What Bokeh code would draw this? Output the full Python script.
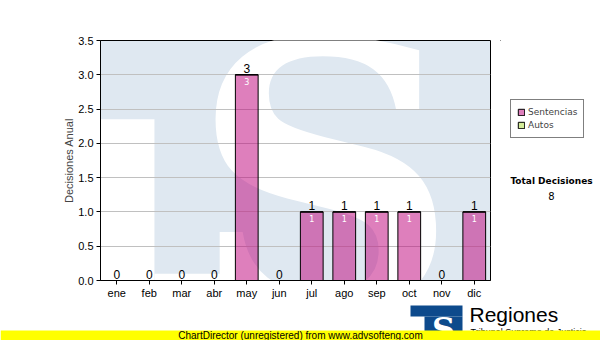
from bokeh.plotting import figure
from bokeh.models import (ColumnDataSource, Range1d, FixedTicker, Legend, LegendItem,
                          NumeralTickFormatter)
from bokeh.layouts import column, row
from bokeh.core.properties import value
from bokeh.embed import file_html
from bokeh.resources import INLINE

months = ["ene", "feb", "mar", "abr", "may", "jun", "jul", "ago", "sep", "oct", "nov", "dic"]
sentencias = [0, 0, 0, 0, 3, 0, 1, 1, 1, 1, 0, 1]
autos = [0, 0, 0, 0, 0, 0, 0, 0, 0, 0, 0, 0]
y_ticks = [0, 0.5, 1.0, 1.5, 2.0, 2.5, 3.0, 3.5]
total = sum(sentencias) + sum(autos)

xpos = [i + 0.5 for i in range(len(months))]
totals = [s + a for s, a in zip(sentencias, autos)]
src = ColumnDataSource(dict(x=xpos, s=sentencias, top2=totals, lab=[str(t) for t in totals]))
inner = ColumnDataSource(dict(x=[x for x, s in zip(xpos, sentencias) if s > 0],
                              y=[s for s in sentencias if s > 0],
                              lab=[str(s) for s in sentencias if s > 0]))

H_TOP = 302
W_MAIN = 500
# ---------------- main chart ----------------
p = figure(width=W_MAIN, height=H_TOP, output_backend="svg", toolbar_location=None,
           x_range=Range1d(0, 12), y_range=Range1d(0, 3.5),
           min_border_left=100, min_border_right=10, min_border_top=40, min_border_bottom=22)
p.background_fill_color = "#dfe8f1"
p.border_fill_color = "white"
p.outline_line_color = "black"

# watermark (TS logo)
wm1 = p.quad(left=[0], right=[1.66], bottom=[0], top=[2.35], fill_color="white", line_color=None)
wm2 = p.quad(left=[1.66], right=[4], bottom=[0], top=[0.1], fill_color="white", line_color=None)
wm3 = p.text(x=[6.9], y=[1.48], text=["S"], text_color="white", text_align="center",
             text_baseline="alphabetic", text_font=value("DejaVu Serif"),
             text_font_style="bold", text_font_size=value("370px"))
for r in (wm1, wm2, wm3):
    r.level = "image"

p.xgrid.visible = False
p.ygrid.grid_line_color = "#c0c0c0"
p.ygrid.ticker = FixedTicker(ticks=y_ticks)

bars = p.vbar(x="x", top="s", bottom=0, width=0.7, source=src,
              fill_color="#bd0079", fill_alpha=0.5, line_color="black", line_width=1)
bars_a = p.vbar(x="x", top="top2", bottom="s", width=0.7, source=src,
                fill_color="#aad933", fill_alpha=0.5, line_color="black", line_width=1)

p.text(x="x", y="top2", text="lab", source=src, text_align="center", text_baseline="bottom",
       y_offset=-2, text_font=value("Liberation Sans"), text_font_size="12px", text_color="black")
p.text(x="x", y="y", text="lab", source=inner, text_align="center", text_baseline="top",
       y_offset=3, text_font=value("DejaVu Sans"), text_font_size="8px", text_color="white")

p.xaxis.ticker = FixedTicker(ticks=xpos)
p.xaxis.major_label_overrides = {x: m for x, m in zip(xpos, months)}
p.yaxis.ticker = FixedTicker(ticks=y_ticks)
p.yaxis.formatter = NumeralTickFormatter(format="0.0")
for ax in (p.xaxis[0], p.yaxis[0]):
    ax.axis_line_color = "black"
    ax.major_tick_line_color = "black"
    ax.major_tick_out = 4
    ax.major_tick_in = 0
    ax.minor_tick_line_color = None
    ax.major_label_text_font = "Liberation Sans"
    ax.major_label_text_font_size = "11px"
    ax.major_label_text_color = "black"
p.xaxis.major_label_standoff = 2
p.yaxis.major_label_standoff = 3
p.yaxis.axis_label = "Decisiones Anual"
p.yaxis.axis_label_text_font = "Liberation Sans"
p.yaxis.axis_label_text_font_size = "11px"
p.yaxis.axis_label_text_font_style = "normal"
p.yaxis.axis_label_standoff = 0

# ---------------- right panel (legend + total) ----------------
q = figure(width=600 - W_MAIN, height=H_TOP, output_backend="svg", toolbar_location=None,
           x_range=Range1d(W_MAIN, 600), y_range=Range1d(H_TOP, 0),
           x_axis_type=None, y_axis_type=None, min_border=0)
q.grid.visible = False
q.outline_line_color = None
q.background_fill_color = "white"
q.border_fill_color = "white"
lg_s = q.vbar(x=[-100], top=[0], width=0, fill_color="#bd0079", fill_alpha=0.5,
              line_color="black")
lg_a = q.vbar(x=[-100], top=[0], width=0, fill_color="#aad933", fill_alpha=0.5,
              line_color="black")
legend = Legend(items=[LegendItem(label="Sentencias", renderers=[lg_s]),
                       LegendItem(label="Autos", renderers=[lg_a])],
                location=(10, 142), border_line_color="black", border_line_width=1,
                padding=6, spacing=1, margin=0, glyph_width=8, glyph_height=8,
                label_standoff=3, label_height=12,
                label_text_font="DejaVu Sans", label_text_font_size="9px")
q.add_layout(legend, "center")
q.text(x=[551], y=[177], text=["Total Decisiones"], text_align="center", text_baseline="middle",
       text_font=value("DejaVu Sans"), text_font_style="bold", text_font_size="9px",
       text_color="black")
q.text(x=[551], y=[196], text=[str(total)], text_align="center", text_baseline="middle",
       text_font=value("DejaVu Sans"), text_font_size="10px", text_color="black")

# ---------------- bottom strip ----------------
b = figure(width=600, height=340 - H_TOP, output_backend="svg", toolbar_location=None,
           x_range=Range1d(0, 600), y_range=Range1d(340, H_TOP),
           x_axis_type=None, y_axis_type=None, min_border=0)
b.grid.visible = False
b.outline_line_color = None
b.background_fill_color = "white"
b.border_fill_color = "white"
b.quad(left=[410, 424], right=[462, 462], top=[305, 316], bottom=[316, 340],
       fill_color="#0d4a8c", line_color=None)
b.text(x=[443], y=[328], text=["S"], text_align="center", text_baseline="alphabetic",
       text_font=value("DejaVu Serif"), text_font_style="bold", text_font_size="32px",
       text_color="white")
b.text(x=[469], y=[314], text=["Regiones"], text_align="left", text_baseline="alphabetic",
       text_font=value("Liberation Sans"), text_font_size="21px", text_color="black")
b.text(x=[470], y=[331], text=["Tribunal Supremo de Justicia"], text_align="left",
       text_baseline="alphabetic", text_font=value("Liberation Sans"), text_font_size="9px",
       text_color="black")
b.quad(left=[0], right=[600], top=[330], bottom=[340], fill_color="#ffff00", line_color=None)
b.text(x=[300], y=[335], text=["ChartDirector (unregistered) from www.advsofteng.com"],
       text_align="center", text_baseline="middle", text_font=value("Liberation Sans"),
       text_font_size="10px", text_color="black")

layout = column(row(p, q, spacing=0), b, spacing=0)
open("out.html", "w").write(file_html(layout, INLINE))
